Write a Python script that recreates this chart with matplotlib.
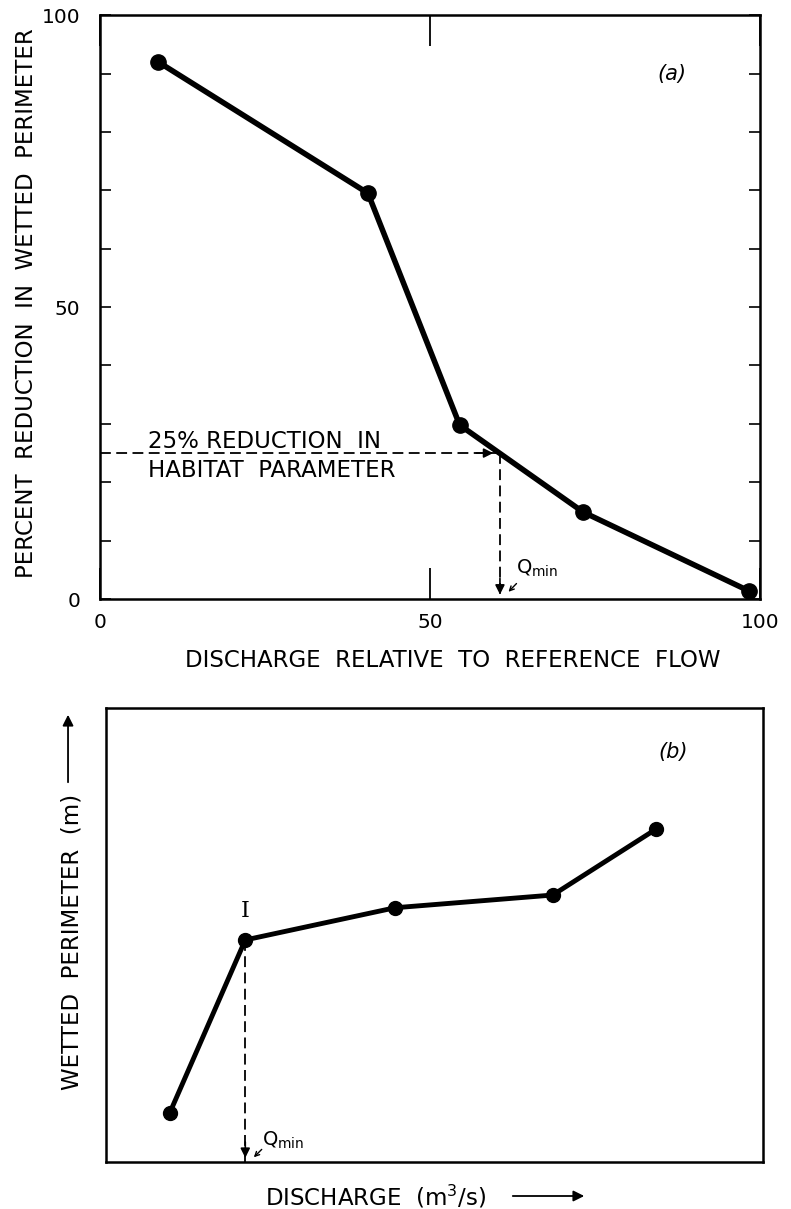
import numpy as np
import matplotlib.pyplot as plt
from matplotlib.patches import FancyArrowPatch

# panel (a): percent reduction in wetted perimeter vs relative discharge
rel_q = [8.8, 40.6, 54.5, 73.2, 98.3]
pct_red = [92.0, 69.5, 29.8, 14.9, 1.4]
red_level = 25
q_min_a = 60.6

# panel (b): wetted perimeter vs discharge (unscaled axes)
q_b = [9.7, 21.2, 44.0, 68.0, 83.7]
wp_b = [10.8, 48.9, 56.0, 58.8, 73.3]
q_min_b = 21.2

plt.rcParams['font.family'] = 'DejaVu Sans'
dash = (0, (6, 3))
fs = 16.5

fig = plt.figure(figsize=(7.91, 12.09), dpi=100)

###################### panel (a) ######################
ax1 = fig.add_axes([0.1264, 0.5045, 0.8344, 0.483])
ax1.plot(rel_q, pct_red, '-o', color='k', lw=4, ms=11)
ax1.set_xlim(0, 100)
ax1.set_ylim(0, 100)
ax1.set_xticks([0, 50, 100])
ax1.set_yticks([0, 50, 100])
ax1.set_yticks(np.arange(0, 101, 10), minor=True)
ax1.tick_params(axis='x', direction='in', length=22, width=1.3, top=True,
                labelsize=14.5, pad=10)
ax1.tick_params(axis='y', which='both', direction='in', length=8, width=1.2,
                right=True, labelsize=14.5, pad=14)
for s in ax1.spines.values():
    s.set_linewidth(1.8)

# 25% reduction guide lines
ax1.plot([0, q_min_a], [red_level, red_level], ls=dash, color='k', lw=1.3)
ax1.plot([q_min_a, q_min_a], [red_level, 0], ls=dash, color='k', lw=1.3)
ax1.annotate('', xy=(q_min_a - 0.6, red_level), xytext=(q_min_a - 4, red_level),
             arrowprops=dict(arrowstyle='-|>', color='k', lw=1.2, mutation_scale=14))
ax1.annotate('', xy=(q_min_a, 0.3), xytext=(q_min_a, 4),
             arrowprops=dict(arrowstyle='-|>', color='k', lw=1.2, mutation_scale=14))
ax1.text(7.3, 27.0, '25% REDUCTION  IN', fontsize=fs, va='center')
ax1.text(7.3, 22.0, 'HABITAT  PARAMETER', fontsize=fs, va='center')
ax1.text(63.0, 5.3, r'Q$_{\rm min}$', fontsize=14, va='center')
ax1.annotate('', xy=(61.6, 0.9), xytext=(63.4, 3.0),
             arrowprops=dict(arrowstyle='->', color='k', lw=1.0, mutation_scale=8))
ax1.text(86.7, 90, '(a)', fontsize=15, style='italic', ha='center', va='center')

ax1.text(-0.112, 0.507, 'PERCENT  REDUCTION  IN  WETTED  PERIMETER', transform=ax1.transAxes,
         rotation=90, fontsize=fs, ha='center', va='center')
ax1.text(0.535, -0.105, 'DISCHARGE  RELATIVE  TO  REFERENCE  FLOW', transform=ax1.transAxes,
         fontsize=fs, ha='center', va='center')

###################### panel (b) ######################
ax2 = fig.add_axes([0.134, 0.0389, 0.8306, 0.3755])
ax2.plot(q_b, wp_b, '-o', color='k', lw=3.5, ms=10)
ax2.set_xlim(0, 100)
ax2.set_ylim(0, 100)
ax2.set_xticks([])
ax2.set_yticks([])
for s in ax2.spines.values():
    s.set_linewidth(1.8)

i = q_b.index(q_min_b)
ax2.plot([q_min_b, q_min_b], [wp_b[i], 0], ls=dash, color='k', lw=1.3)
ax2.annotate('', xy=(q_min_b, 0.3), xytext=(q_min_b, 5),
             arrowprops=dict(arrowstyle='-|>', color='k', lw=1.2, mutation_scale=14))
ax2.text(q_min_b, 55.3, 'I', fontsize=16, family='DejaVu Serif', ha='center', va='center')
ax2.text(23.7, 4.8, r'Q$_{\rm min}$', fontsize=14, va='center')
ax2.annotate('', xy=(22.2, 0.6), xytext=(24.0, 3.2),
             arrowprops=dict(arrowstyle='->', color='k', lw=1.0, mutation_scale=8))
ax2.text(86.3, 90.3, '(b)', fontsize=15, style='italic', ha='center', va='center')

ax2.text(-0.052, 0.485, 'WETTED  PERIMETER  (m)', transform=ax2.transAxes,
         rotation=90, fontsize=fs, ha='center', va='center')
ax2.text(0.411, -0.077, r'DISCHARGE  (m$^3$/s)', transform=ax2.transAxes,
         fontsize=fs, ha='center', va='center')
# direction arrows next to axis labels
fig.patches.append(FancyArrowPatch(
    (0.086, 1 - 785 / 1209), (0.086, 1 - 712 / 1209), transform=fig.transFigure,
    arrowstyle='-|>', mutation_scale=16, color='k', lw=1.3))
fig.patches.append(FancyArrowPatch(
    (510 / 791, 1 - 1196 / 1209), (587 / 791, 1 - 1196 / 1209), transform=fig.transFigure,
    arrowstyle='-|>', mutation_scale=16, color='k', lw=1.3))

plt.savefig('out.png', dpi=100)
